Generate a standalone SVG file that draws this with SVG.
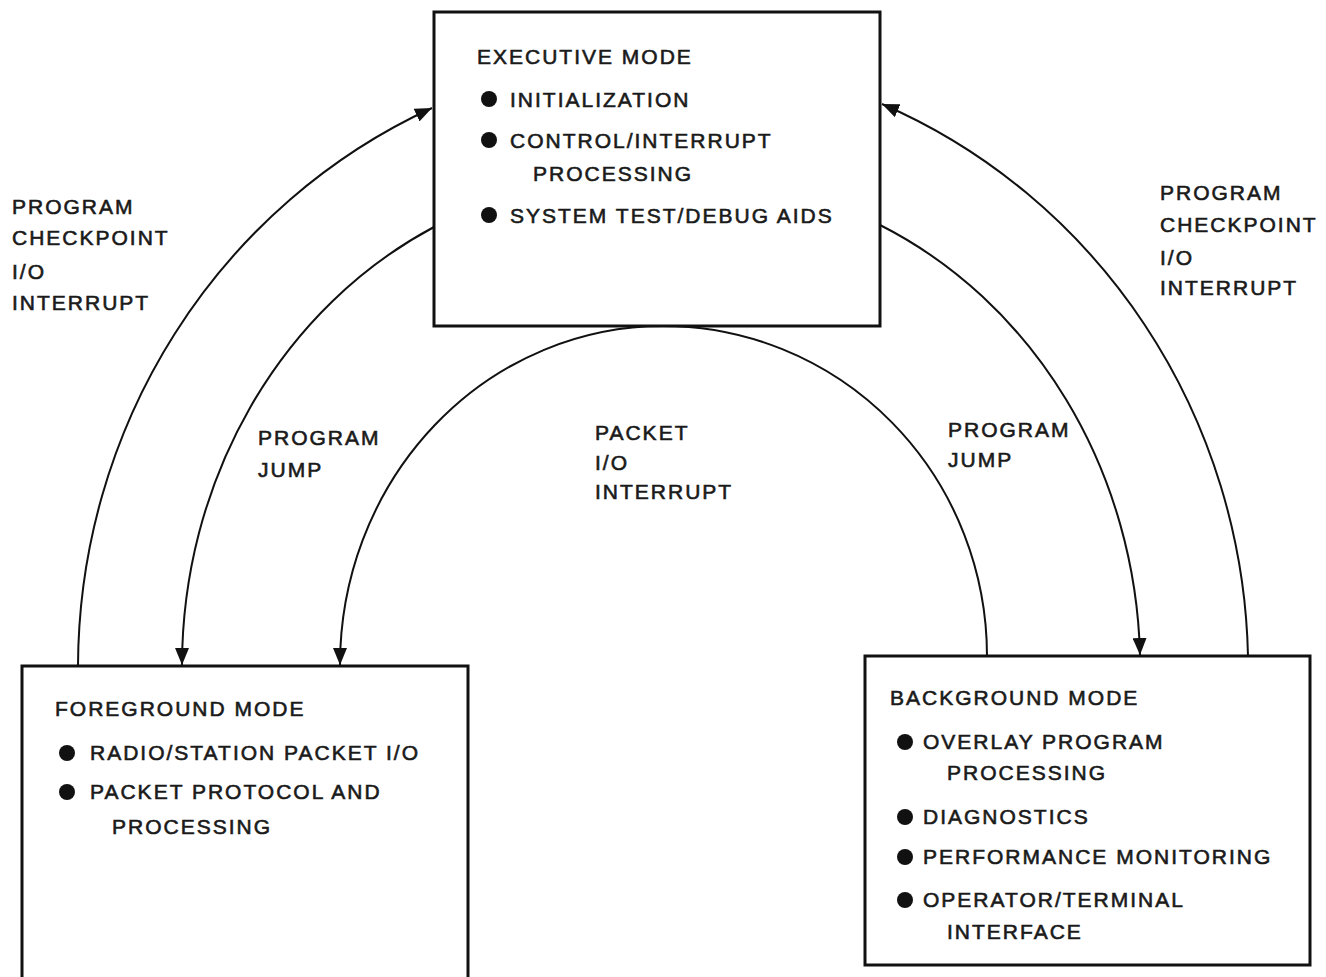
<svg xmlns="http://www.w3.org/2000/svg" width="1326" height="977" viewBox="0 0 1326 977">
<style>
  text { font-family: "Liberation Sans", Arial, sans-serif; font-size: 21px; letter-spacing: 2px; fill: #1a1a1a; stroke: #1a1a1a; stroke-width: 0.6px; }
  .box { fill: none; stroke: #111; stroke-width: 3; }
  .conn { fill: none; stroke: #111; stroke-width: 2; }
  .dot { fill: #111; }
</style>
<defs>
  <marker id="arr" markerUnits="userSpaceOnUse" markerWidth="18" markerHeight="14" refX="17" refY="7" orient="auto">
    <path d="M0,0 L17,7 L0,14 Z" fill="#111"/>
  </marker>
</defs>
<rect width="1326" height="977" fill="#ffffff"/>

<g id="connectors">
  <path class="conn" d="M78,666 A600,614 0 0 1 432,108" marker-end="url(#arr)"/>
  <path class="conn" d="M434,227 A450,489 0 0 0 182,665" marker-end="url(#arr)"/>
  <path class="conn" d="M987,656 A324,330 0 0 0 663,326 A323,339 0 0 0 340,665" marker-end="url(#arr)"/>
  <path class="conn" d="M880,225 A450,489 0 0 1 1140,655" marker-end="url(#arr)"/>
  <path class="conn" d="M1248,656 A600,614 0 0 0 882,104" marker-end="url(#arr)"/>
</g>

<g id="executive">
  <rect class="box" x="434" y="12" width="446" height="314"/>
  <text x="477" y="64">EXECUTIVE MODE</text>
  <circle class="dot" cx="489" cy="99" r="8"/>
  <text x="510" y="107">INITIALIZATION</text>
  <circle class="dot" cx="489" cy="140" r="8"/>
  <text x="510" y="148">CONTROL/INTERRUPT</text>
  <text x="533" y="181">PROCESSING</text>
  <circle class="dot" cx="489" cy="215" r="8"/>
  <text x="510" y="223">SYSTEM TEST/DEBUG AIDS</text>
</g>

<g id="foreground">
  <rect class="box" x="22" y="666" width="446" height="330"/>
  <text x="55" y="716">FOREGROUND MODE</text>
  <circle class="dot" cx="67" cy="753" r="8"/>
  <text x="90" y="760">RADIO/STATION PACKET I/O</text>
  <circle class="dot" cx="67" cy="792" r="8"/>
  <text x="90" y="799">PACKET PROTOCOL AND</text>
  <text x="112" y="834">PROCESSING</text>
</g>

<g id="background">
  <rect class="box" x="865" y="656" width="445" height="309"/>
  <text x="890" y="705">BACKGROUND MODE</text>
  <circle class="dot" cx="905" cy="742" r="8"/>
  <text x="923" y="749">OVERLAY PROGRAM</text>
  <text x="947" y="780">PROCESSING</text>
  <circle class="dot" cx="905" cy="817" r="8"/>
  <text x="923" y="824">DIAGNOSTICS</text>
  <circle class="dot" cx="905" cy="857" r="8"/>
  <text x="923" y="864">PERFORMANCE MONITORING</text>
  <circle class="dot" cx="905" cy="900" r="8"/>
  <text x="923" y="907">OPERATOR/TERMINAL</text>
  <text x="947" y="939">INTERFACE</text>
</g>

<g id="label-left-checkpoint">
  <text x="12" y="214">PROGRAM</text>
  <text x="12" y="245">CHECKPOINT</text>
  <text x="12" y="279">I/O</text>
  <text x="12" y="310">INTERRUPT</text>
</g>
<g id="label-right-checkpoint">
  <text x="1160" y="200">PROGRAM</text>
  <text x="1160" y="232">CHECKPOINT</text>
  <text x="1160" y="265">I/O</text>
  <text x="1160" y="295">INTERRUPT</text>
</g>
<g id="label-left-jump">
  <text x="258" y="445">PROGRAM</text>
  <text x="258" y="477">JUMP</text>
</g>
<g id="label-right-jump">
  <text x="948" y="437">PROGRAM</text>
  <text x="948" y="467">JUMP</text>
</g>
<g id="label-packet">
  <text x="595" y="440">PACKET</text>
  <text x="595" y="470">I/O</text>
  <text x="595" y="499">INTERRUPT</text>
</g>
</svg>
